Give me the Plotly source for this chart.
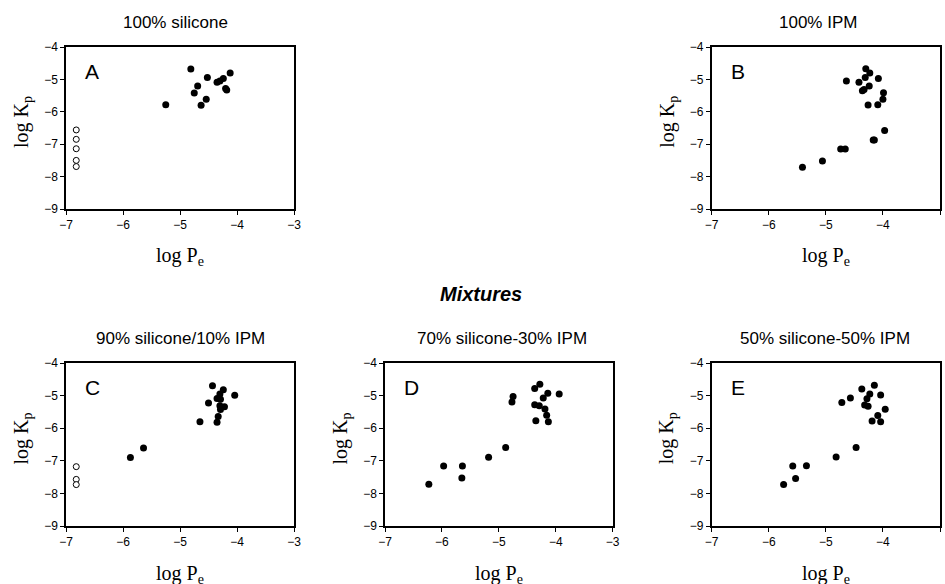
import plotly.graph_objects as go

W, H = 945, 584

# ---- data ----
a_x = [-4.81, -5.25, -4.75, -4.69, -4.63, -4.54, -4.52, -4.35, -4.30, -4.24, -4.20, -4.18, -4.12]
a_y = [-4.68, -5.78, -5.42, -5.20, -5.80, -5.61, -4.94, -5.09, -5.05, -4.97, -5.28, -5.33, -4.80]
a_open_x = [-6.82, -6.82, -6.82, -6.82, -6.82]
a_open_y = [-6.56, -6.85, -7.14, -7.50, -7.69]

b_x = [-4.30, -4.23, -4.31, -4.42, -4.64, -4.24, -4.33, -4.36, -4.08, -3.99, -4.00, -4.26, -4.09, -3.97, -4.17, -4.15, -4.74, -4.66, -5.06, -5.41]
b_y = [-4.67, -4.80, -4.94, -5.09, -5.05, -5.20, -5.31, -5.35, -4.97, -5.41, -5.61, -5.79, -5.78, -6.58, -6.87, -6.87, -7.15, -7.15, -7.52, -7.71]

c_x = [-4.43, -4.24, -4.04, -4.30, -4.35, -4.29, -4.50, -4.30, -4.22, -4.29, -4.33, -4.65, -4.35, -5.64, -5.87]
c_y = [-4.70, -4.82, -4.99, -4.95, -5.09, -5.11, -5.23, -5.31, -5.34, -5.43, -5.64, -5.80, -5.82, -6.61, -6.90]
c_open_x = [-6.82, -6.82, -6.82]
c_open_y = [-7.18, -7.57, -7.73]

d_x = [-4.28, -4.37, -4.14, -3.94, -4.22, -4.75, -4.77, -4.37, -4.29, -4.19, -4.16, -4.35, -4.13, -4.88, -5.18, -5.97, -5.64, -5.65, -6.23]
d_y = [-4.65, -4.78, -4.93, -4.95, -5.07, -5.03, -5.20, -5.28, -5.31, -5.41, -5.60, -5.77, -5.80, -6.59, -6.89, -7.16, -7.16, -7.53, -7.72]

e_x = [-4.15, -4.37, -4.23, -4.04, -4.57, -4.28, -4.72, -4.32, -4.26, -3.96, -4.09, -4.19, -4.04, -4.47, -4.82, -5.58, -5.34, -5.53, -5.74]
e_y = [-4.68, -4.80, -4.95, -4.98, -5.07, -5.10, -5.21, -5.29, -5.33, -5.42, -5.61, -5.78, -5.80, -6.59, -6.88, -7.16, -7.15, -7.54, -7.73]

x_ticks = [-7, -6, -5, -4, -3]
y_ticks = [-4, -5, -6, -7, -8, -9]

panel_letters = ["A", "B", "C", "D", "E"]
panel_titles = ["100% silicone", "100% IPM", "90% silicone/10% IPM", "70% silicone-30% IPM", "50% silicone-50% IPM"]

# ---- layout geometry (pixels) ----
panels = [
    (66, 294, 47, 209),
    (711.7, 940, 47, 209),
    (66, 294, 363, 526),
    (385, 612.7, 363, 526),
    (711.7, 940, 363, 526),
]
title_cx = [175, 818, 180, 502, 825]
title_cy = [22, 22, 338, 338, 338]

fig = go.Figure()

filled = [(a_x, a_y), (b_x, b_y), (c_x, c_y), (d_x, d_y), (e_x, e_y)]
opens = {0: (a_open_x, a_open_y), 2: (c_open_x, c_open_y)}

for i, (xs, ys) in enumerate(filled):
    sfx = "" if i == 0 else str(i + 1)
    fig.add_trace(go.Scatter(x=xs, y=ys, mode="markers", xaxis="x" + sfx, yaxis="y" + sfx,
                             marker=dict(color="black", size=7, line=dict(width=0)), showlegend=False))
    if i in opens:
        ox, oy = opens[i]
        fig.add_trace(go.Scatter(x=ox, y=oy, mode="markers", xaxis="x" + sfx, yaxis="y" + sfx,
                                 marker=dict(color="white", size=6, symbol="circle",
                                             line=dict(color="black", width=1)), showlegend=False))

axis_common = dict(showgrid=False, zeroline=False, showline=True, linecolor="black", linewidth=1.5,
                   mirror=True, ticks="outside", ticklen=4, tickwidth=1.2, tickcolor="black",
                   automargin=False,
                   tickfont=dict(family="Arial, Liberation Sans", size=12, color="black"))

annotations = []
for i, (x0, x1, y0, y1) in enumerate(panels):
    sfx = "" if i == 0 else str(i + 1)
    xa = dict(axis_common, domain=[x0 / W, x1 / W], range=[-7, -3], tickvals=x_ticks,
              anchor="y" + sfx)
    ya = dict(axis_common, domain=[1 - y1 / H, 1 - y0 / H], range=[-9, -4], tickvals=y_ticks,
              anchor="x" + sfx)
    fig.update_layout(**{"xaxis" + sfx: xa, "yaxis" + sfx: ya})
    cx = (x0 + x1) / 2
    # panel title
    annotations.append(dict(text=panel_titles[i], x=title_cx[i] / W, y=1 - title_cy[i] / H,
                            xref="paper", yref="paper", showarrow=False,
                            xanchor="center", yanchor="middle",
                            font=dict(family="Arial, Liberation Sans", size=17, color="black")))
    # panel letter
    annotations.append(dict(text=panel_letters[i], x=-6.54, y=-4.75, xref="x" + sfx, yref="y" + sfx,
                            showarrow=False, xanchor="center", yanchor="middle",
                            font=dict(family="Arial, Liberation Sans", size=21, color="black")))
    # x title
    annotations.append(dict(text="log P<sub>e</sub>", x=cx / W, y=1 - (y1 + 48) / H,
                            xref="paper", yref="paper", showarrow=False,
                            xanchor="center", yanchor="middle",
                            font=dict(family="Times New Roman, Liberation Serif", size=20, color="black")))
    # y title
    annotations.append(dict(text="log K<sub>p</sub>", x=(x0 - 44) / W, y=1 - ((y0 + y1) / 2 - 6) / H,
                            xref="paper", yref="paper", showarrow=False, textangle=-90,
                            xanchor="center", yanchor="middle",
                            font=dict(family="Times New Roman, Liberation Serif", size=20, color="black")))

annotations.append(dict(text="<b><i>Mixtures</i></b>", x=481 / W, y=1 - 294 / H, xref="paper", yref="paper",
                        showarrow=False, xanchor="center", yanchor="middle",
                        font=dict(family="Arial, Liberation Sans", size=20, color="black")))

fig.update_layout(width=W, height=H, margin=dict(l=0, r=0, t=0, b=0),
                  plot_bgcolor="white", paper_bgcolor="white", annotations=annotations)

fig.write_html("out.html", config={"displayModeBar": False},
               post_script="document.body.style.margin='0';document.body.style.overflow='hidden';")
